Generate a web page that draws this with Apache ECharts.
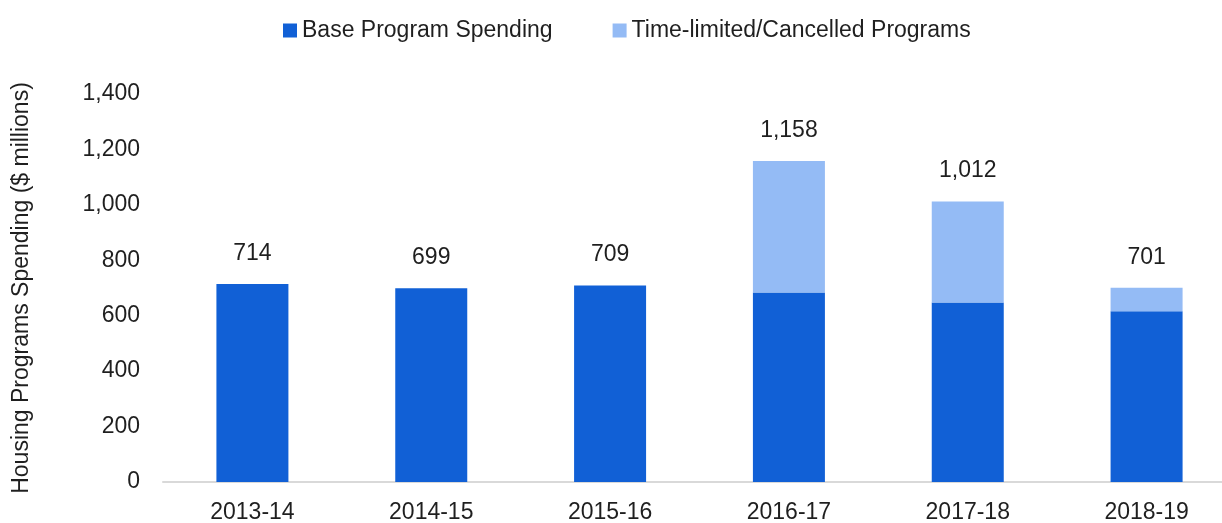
<!DOCTYPE html>
<html>
<head>
<meta charset="utf-8">
<script src="https://cdn.jsdelivr.net/npm/echarts@6/dist/echarts.min.js"></script>
<style>
  html, body { margin: 0; padding: 0; background: #fff; }
  #chart { width: 1222px; height: 523px; }
</style>
</head>
<body>
<div id="chart"></div>
<script>
const categories = ['2013-14', '2014-15', '2015-16', '2016-17', '2017-18', '2018-19']
const baseSpending = [714, 699, 709, 684, 648, 616]
const timeLimited = [0, 0, 0, 474, 364, 85]
const totals = [714, 699, 709, 1158, 1012, 701]

const textFont = { fontFamily: 'Liberation Sans, Arial, sans-serif', color: '#1f1f1f' }

const chart = echarts.init(document.getElementById('chart'))
chart.setOption({
  animation: false,
  legend: {
    top: 14,
    left: 278,
    itemWidth: 14,
    itemHeight: 14,
    itemGap: 60,
    icon: 'rect',
    textStyle: { ...textFont, fontSize: 23 },
    data: ['Base Program Spending', 'Time-limited/Cancelled Programs']
  },
  grid: {
    left: 163, width: 1073, top: 94, bottom: 41,
    containLabel: false,
    outerBoundsMode: 'none'
  },
  xAxis: {
    type: 'category',
    data: categories,
    axisLine: { lineStyle: { color: '#d9d9d9', width: 2 } },
    axisTick: { show: false },
    axisLabel: { ...textFont, fontSize: 23, margin: 19 }
  },
  yAxis: {
    type: 'value',
    min: 0,
    max: 1400,
    interval: 200,
    name: 'Housing Programs Spending ($ millions)',
    nameLocation: 'middle',
    nameGap: 130,
    nameTextStyle: { ...textFont, fontSize: 23 },
    splitLine: { show: false },
    axisLine: { show: false },
    axisTick: { show: false },
    axisLabel: {
      ...textFont,
      fontSize: 23,
      margin: 23,
      formatter: v => v.toLocaleString('en-US')
    }
  },
  series: [
    {
      name: 'Base Program Spending',
      type: 'bar',
      stack: 'total',
      barWidth: 72,
      data: baseSpending,
      itemStyle: { color: '#1160d6' }
    },
    {
      name: 'Time-limited/Cancelled Programs',
      type: 'bar',
      stack: 'total',
      barWidth: 72,
      data: timeLimited,
      itemStyle: { color: '#94bbf5' },
      label: {
        show: true,
        position: 'top',
        distance: 19,
        ...textFont,
        fontSize: 23,
        formatter: p => totals[p.dataIndex].toLocaleString('en-US')
      }
    }
  ]
})
</script>
</body>
</html>
